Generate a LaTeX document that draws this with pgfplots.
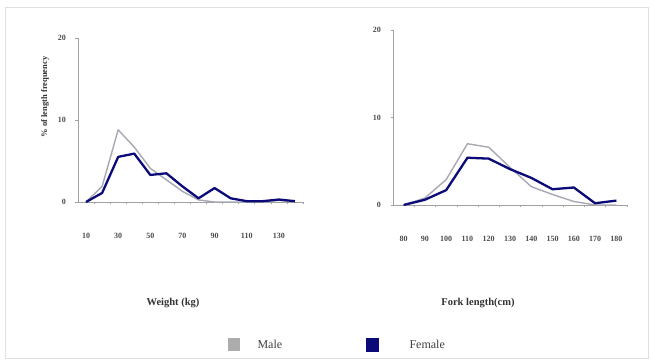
\documentclass[border=0pt]{standalone}
\usepackage{pgfplots}
\pgfplotsset{compat=1.18}
\usepackage{fontspec}
\setmainfont{Liberation Serif}

\definecolor{femalec}{HTML}{0A0A78}
\definecolor{malec}{HTML}{A8A8B4}
\definecolor{axisc}{HTML}{A0A0A0}

% Weight classes (kg): 10,20,...,140 plotted at 0..13
\pgfplotstableread{
idx male female
0  0.0  0.0
1  1.9  1.1
2  8.8  5.5
3  6.7  5.9
4  4.1  3.3
5  2.7  3.5
6  1.3  1.9
7  0.25 0.45
8  0.0  1.7
9  0.0  0.45
10 0.0  0.1
11 0.0  0.1
12 0.2  0.3
13 0.0  0.1
}\weighttab

% Fork length classes (cm): 80,90,...,180 plotted at 0..10
\pgfplotstableread{
idx male female
0  0.0  0.0
1  0.8  0.6
2  2.9  1.7
3  7.0  5.4
4  6.6  5.3
5  4.3  4.1
6  2.1  3.1
7  1.2  1.8
8  0.4  2.0
9  0.0  0.2
10 0.0  0.5
}\lengthtab

\pgfplotsset{
  freqaxis/.style={
    scale only axis,
    axis lines*=left,
    axis line style={axisc, line width=0.8pt},
    ymin=0, ymax=20,
    ytick={0,10,20},
    tick align=outside,
    major tick length=2.5pt,
    tick style={axisc, line width=0.6pt},
    every tick label/.append style={font=\fontsize{8}{9}\selectfont\bfseries, text=black!70},
    /pgf/number format/assume math mode=true,
    xticklabel style={yshift=-25pt},
    yticklabel style={xshift=-6pt},
    clip=false,
  },
  malestyle/.style={malec, line width=1.4pt, line join=round},
  femalestyle/.style={femalec, line width=2.3pt, line join=round},
}

\begin{document}
\begin{tikzpicture}
\path[fill=white] (0pt,0pt) rectangle (653pt,363pt);
\draw[black!12, line width=0.8pt] (5pt,5pt) rectangle (648pt,356pt);

% Weight panel
\begin{axis}[freqaxis,
  at={(78pt,161pt)}, anchor=south west,
  width=225pt, height=164pt,
  xmin=-0.5, xmax=13.5,
  xtick={0,2,...,12},
  xticklabels={10,30,50,70,90,110,130},
  minor xtick={0.5,1.5,...,13.5},
  minor tick length=2.5pt,
  x tick style={draw=none},
  minor x tick style={draw=axisc},
]
\addplot[malestyle] table[x=idx, y=male] {\weighttab};
\addplot[femalestyle] table[x=idx, y=female] {\weighttab};
\end{axis}

% Fork length panel
\begin{axis}[freqaxis,
  at={(393pt,158pt)}, anchor=south west,
  width=234pt, height=175pt,
  xmin=-0.5, xmax=10.5,
  xtick={0,1,...,10},
  xticklabels={80,90,100,110,120,130,140,150,160,170,180},
  minor xtick={0.5,1.5,...,10.5},
  minor tick length=2.5pt,
  x tick style={draw=none},
  minor x tick style={draw=axisc},
]
\addplot[malestyle] table[x=idx, y=male] {\lengthtab};
\addplot[femalestyle] table[x=idx, y=female] {\lengthtab};
\end{axis}

% Axis titles
\node[rotate=90, font=\fontsize{8.5}{9}\selectfont\bfseries, text=black!80] at (45pt,266pt) {\% of length frequency};
\node[font=\fontsize{10.5}{12}\selectfont\bfseries, text=black!80] at (173pt,60pt) {Weight (kg)};
\node[font=\fontsize{10.5}{12}\selectfont\bfseries, text=black!80] at (478pt,60pt) {Fork length(cm)};

% Legend
\fill[gray!65] (228pt,12pt) rectangle (240pt,25pt);
\node[anchor=west, font=\fontsize{12}{13}\selectfont, text=black!75] at (254pt,19pt) {Male};
\fill[femalec] (366pt,11pt) rectangle (379pt,25pt);
\node[anchor=west, font=\fontsize{12}{13}\selectfont, text=black!75] at (406pt,19pt) {Female};
\end{tikzpicture}
\end{document}
